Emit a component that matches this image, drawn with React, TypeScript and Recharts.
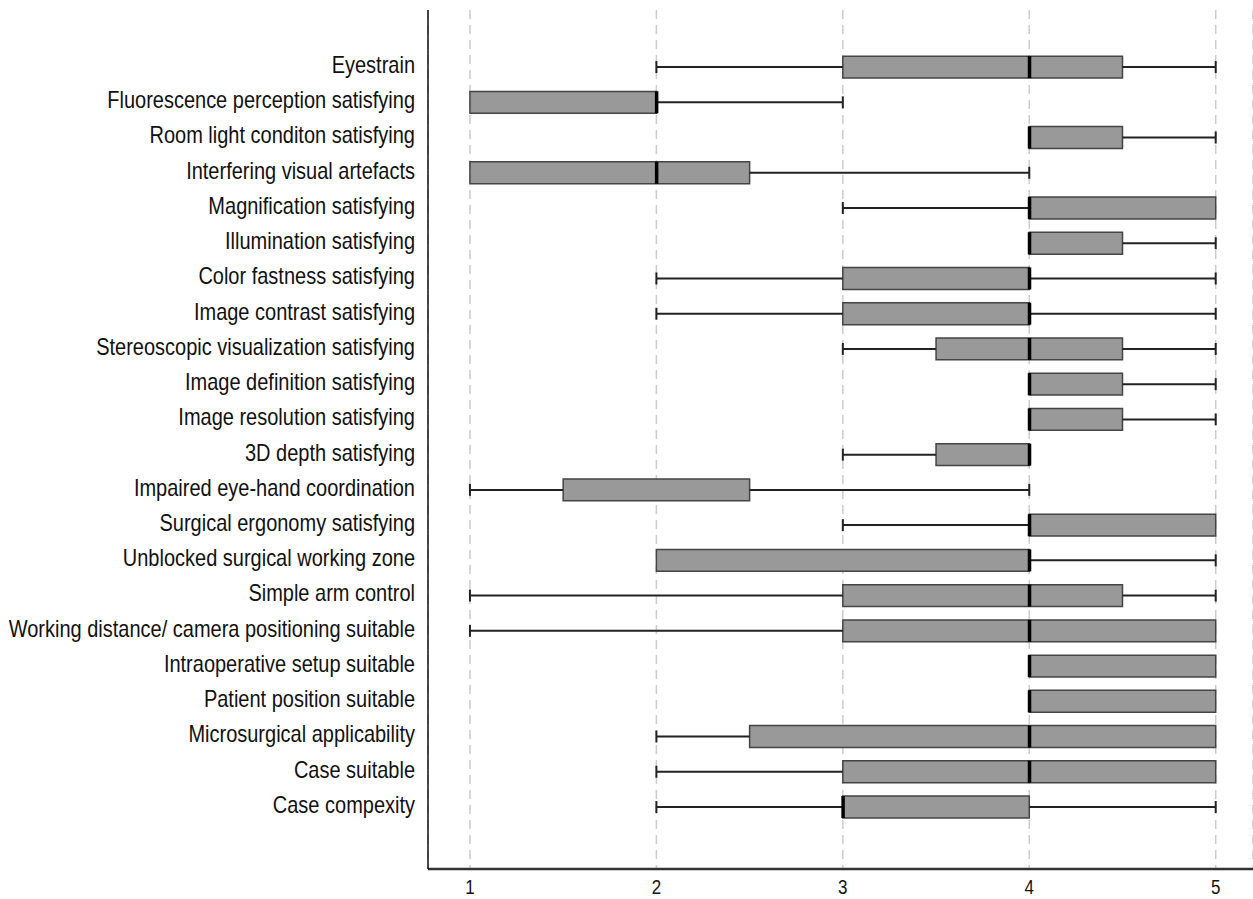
import React from 'react';
import {
  ComposedChart,
  XAxis,
  YAxis,
  CartesianGrid,
  ReferenceArea,
  ReferenceLine,
  Scatter,
} from 'recharts';

const labels = [
  'Eyestrain',
  'Fluorescence perception satisfying',
  'Room light conditon satisfying',
  'Interfering visual artefacts',
  'Magnification satisfying',
  'Illumination satisfying',
  'Color fastness satisfying',
  'Image contrast satisfying',
  'Stereoscopic visualization satisfying',
  'Image definition satisfying',
  'Image resolution satisfying',
  '3D depth satisfying',
  'Impaired eye-hand coordination',
  'Surgical ergonomy satisfying',
  'Unblocked surgical working zone',
  'Simple arm control',
  'Working distance/ camera positioning suitable',
  'Intraoperative setup suitable',
  'Patient position suitable',
  'Microsurgical applicability',
  'Case suitable',
  'Case compexity',
];

const mins = [2, 1, 4, 1, 3, 4, 2, 2, 3, 4, 4, 3, 1, 3, 2, 1, 1, 4, 4, 2, 2, 2];
const q1s = [3, 1, 4, 1, 4, 4, 3, 3, 3.5, 4, 4, 3.5, 1.5, 4, 2, 3, 3, 4, 4, 2.5, 3, 3];
const medians: (number | null)[] = [4, 2, 4, 2, 4, 4, 4, 4, 4, 4, 4, 4, null, 4, 4, 4, 4, 4, 4, 4, 4, 3];
const q3s = [4.5, 2, 4.5, 2.5, 5, 4.5, 4, 4, 4.5, 4.5, 4.5, 4, 2.5, 5, 4, 4.5, 5, 5, 5, 5, 5, 4];
const maxs = [5, 3, 5, 4, 5, 5, 5, 5, 5, 5, 5, 4, 4, 5, 5, 5, 5, 5, 5, 5, 5, 5];

const xTicks = [1, 2, 3, 4, 5];
const rowTicks = labels.map((_, i) => i);

const BOX_HALF = 0.31;
const CAP_HALF = 0.17;
const FONT = "'Liberation Sans', Arial, sans-serif";

const rows = labels.map((name, i) => ({
  name,
  idx: i,
  min: mins[i],
  q1: q1s[i],
  median: medians[i],
  q3: q3s[i],
  max: maxs[i],
}));

const medianPoints = rows.filter((r) => r.median !== null);

const MedianShape = (props: any) => {
  const { cx, cy } = props;
  if (cx == null || cy == null) return null;
  return <rect x={cx - 1.5} y={cy - 11} width={3.5} height={22} fill="#000" />;
};

const YTick = (props: any) => {
  const { x, y, payload } = props;
  const label = labels[payload?.value] ?? '';
  return (
    <g transform={`translate(${x},${y}) scale(1,1.18)`}>
      <text
        x={0}
        y={0}
        dy="0.25em"
        textAnchor="end"
        fill="#111"
        fontSize={20}
        fontFamily={FONT}
      >
        {label}
      </text>
    </g>
  );
};

const XTick = (props: any) => {
  const { x, y, payload } = props;
  return (
    <g transform={`translate(${x},${y}) scale(1,1.18)`}>
      <text
        x={0}
        y={14}
        textAnchor="middle"
        fill="#111"
        fontSize={17}
        fontFamily={FONT}
      >
        {payload?.value}
      </text>
    </g>
  );
};

export default function App() {
  return (
    <div style={{ position: 'absolute', left: 0, top: 0, background: '#fff' }}>
      <ComposedChart
        width={1253}
        height={899}
        data={rows}
        margin={{ top: 10, right: 0, bottom: 0, left: 0 }}
      >
        <CartesianGrid
          horizontal={false}
          vertical={true}
          stroke="#cccccc"
          strokeWidth={1.5}
          strokeDasharray="9 6"
        />
        <XAxis
          type="number"
          dataKey="median"
          domain={[0.775, 5.2]}
          ticks={xTicks}
          allowDataOverflow
          height={30}
          tickLine={false}
          axisLine={{ stroke: '#333', strokeWidth: 2.5 }}
          tick={<XTick />}
        />
        <YAxis
          type="number"
          dataKey="idx"
          domain={[-1.62, 22.76]}
          reversed
          ticks={rowTicks}
          interval={0}
          allowDataOverflow
          width={428}
          tickLine={false}
          tickSize={6}
          tickMargin={7}
          axisLine={{ stroke: '#111', strokeWidth: 1.5 }}
          tick={<YTick />}
        />
        {rows.map((r) =>
          r.min < r.q1 ? (
            <ReferenceLine
              key={`wl${r.idx}`}
              segment={[
                { x: r.min, y: r.idx },
                { x: r.q1, y: r.idx },
              ]}
              stroke="#222"
              strokeWidth={2}
            />
          ) : null
        )}
        {rows.map((r) =>
          r.max > r.q3 ? (
            <ReferenceLine
              key={`wr${r.idx}`}
              segment={[
                { x: r.q3, y: r.idx },
                { x: r.max, y: r.idx },
              ]}
              stroke="#222"
              strokeWidth={2}
            />
          ) : null
        )}
        {rows.map((r) =>
          r.min < r.q1 ? (
            <ReferenceLine
              key={`cl${r.idx}`}
              segment={[
                { x: r.min, y: r.idx - CAP_HALF },
                { x: r.min, y: r.idx + CAP_HALF },
              ]}
              stroke="#222"
              strokeWidth={2}
            />
          ) : null
        )}
        {rows.map((r) =>
          r.max > r.q3 ? (
            <ReferenceLine
              key={`cr${r.idx}`}
              segment={[
                { x: r.max, y: r.idx - CAP_HALF },
                { x: r.max, y: r.idx + CAP_HALF },
              ]}
              stroke="#222"
              strokeWidth={2}
            />
          ) : null
        )}
        {rows.map((r) => (
          <ReferenceArea
            key={`b${r.idx}`}
            x1={r.q1}
            x2={r.q3}
            y1={r.idx - BOX_HALF}
            y2={r.idx + BOX_HALF}
            fill="#999999"
            fillOpacity={1}
            stroke="#444444"
            strokeWidth={1.5}
          />
        ))}
        <Scatter
          data={medianPoints}
          dataKey="idx"
          isAnimationActive={false}
          shape={<MedianShape />}
        />
      </ComposedChart>
    </div>
  );
}
